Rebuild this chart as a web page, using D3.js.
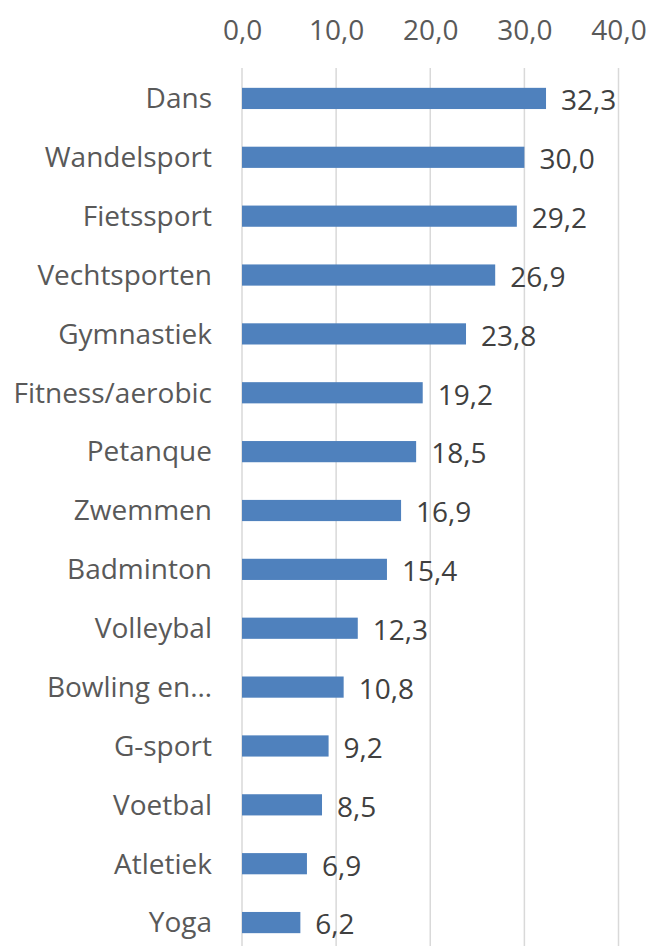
<!DOCTYPE html>
<html>
<head>
<meta charset="utf-8">
<script src="https://cdn.jsdelivr.net/npm/d3@7"></script>
<style>
  body { margin: 0; background: #fff; }
  svg text { font-family: "Open Sans", sans-serif; }
</style>
</head>
<body>
<div id="chart-area"></div>
<script>
var categories = ["Dans", "Wandelsport", "Fietssport", "Vechtsporten", "Gymnastiek",
    "Fitness/aerobic", "Petanque", "Zwemmen", "Badminton", "Volleybal",
    "Bowling en\u2026", "G-sport", "Voetbal", "Atletiek", "Yoga"];
var values = [32.3, 30.0, 29.2, 26.9, 23.8, 19.2, 18.5, 16.9, 15.4, 12.3, 10.8, 9.2, 8.5, 6.9, 6.2];
var tickValues = [0, 10, 20, 30, 40];

var width = 648, height = 946;

var svg = d3.select("#chart-area")
    .append("svg")
    .attr("width", width)
    .attr("height", height);

var x = d3.scaleLinear()
    .domain([0, 40])
    .range([242, 618.5]);

var y = d3.scaleBand()
    .domain(categories)
    .range([69, 952])
    .paddingInner(0.64)
    .paddingOuter(0.32);

var fmt = function(d){ return d3.format(".1f")(d).replace(".", ","); };

// gridlines
svg.selectAll(".grid")
    .data(tickValues)
    .enter()
    .append("line")
    .attr("class", "grid")
    .attr("x1", function(d){ return x(d); })
    .attr("x2", function(d){ return x(d); })
    .attr("y1", 68)
    .attr("y2", height)
    .attr("stroke", "#d9d9d9")
    .attr("stroke-width", 1.5);

// top axis labels
var xAxisCall = d3.axisTop(x)
    .tickValues(tickValues)
    .tickSize(0)
    .tickFormat(fmt);
var xAxis = svg.append("g")
    .attr("class", "x axis")
    .attr("transform", "translate(0,40)")
    .call(xAxisCall);
xAxis.select(".domain").remove();
xAxis.selectAll("text")
    .attr("y", 0)
    .attr("font-size", "28px")
    .attr("fill", "#595959")
    .style("font-family", "'Open Sans', sans-serif");

// category labels
var yAxisCall = d3.axisLeft(y).tickSize(0);
var yAxis = svg.append("g")
    .attr("class", "y axis")
    .attr("transform", "translate(212,0)")
    .call(yAxisCall);
yAxis.select(".domain").remove();
yAxis.selectAll("text")
    .attr("x", 0)
    .attr("dy", "0.35em")
    .attr("font-size", "28px")
    .attr("fill", "#595959")
    .style("font-family", "'Open Sans', sans-serif");

// bars
svg.selectAll(".bar")
    .data(values)
    .enter()
    .append("rect")
    .attr("class", "bar")
    .attr("x", x(0))
    .attr("y", function(d, i){ return y(categories[i]); })
    .attr("width", function(d){ return x(d) - x(0); })
    .attr("height", y.bandwidth())
    .style("fill", "#4f81bd");

// value labels
svg.selectAll(".val")
    .data(values)
    .enter()
    .append("text")
    .attr("class", "val")
    .attr("x", function(d){ return x(d) + 15; })
    .attr("y", function(d, i){ return y(categories[i]) + y.bandwidth() / 2 + 2; })
    .attr("dy", "0.35em")
    .attr("font-size", "28px")
    .attr("fill", "#404040")
    .text(fmt);
</script>
</body>
</html>
